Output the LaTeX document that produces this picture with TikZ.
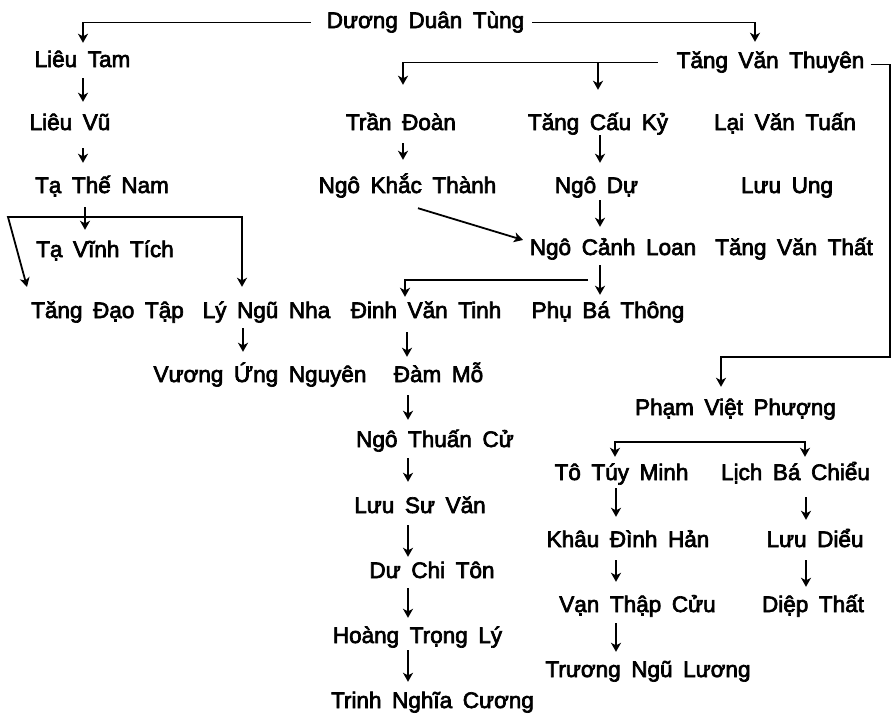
\documentclass[tikz,border=0pt]{standalone}
\usepackage{fontspec}
\setmainfont{Liberation Sans}[WordSpace=1.7,FakeBold=3]
\usetikzlibrary{arrows.meta}
\begin{document}
\begin{tikzpicture}[x=1pt,y=-1pt,
  nm/.style={anchor=base, font=\fontsize{22.5}{26}\selectfont, inner xsep=2pt, inner ysep=5pt, text height=16pt, text depth=5pt},
  hd/.style={Stealth[length=9pt,width=10pt,inset=2.5pt]},
  arr/.style={line width=1.8pt, -{Stealth[length=9pt,width=10pt,inset=2.5pt]}},
  arrtwo/.style={line width=1.8pt, {Stealth[length=9pt,width=10pt,inset=2.5pt]}-{Stealth[length=9pt,width=10pt,inset=2.5pt]}}]
\fill[white] (0,0) rectangle (893,718);
\useasboundingbox (0,0) rectangle (893,718);

% nodes
\node[nm] (dd) at (425.5,28) {Dương Duân Tùng};
\node[nm] (lt) at (82.5,67) {Liêu Tam};
\node[nm] (tvt) at (770.5,68) {Tăng Văn Thuyên};
\node[nm] (lv) at (70,130) {Liêu Vũ};
\node[nm] (td) at (401,130) {Trần Đoàn};
\node[nm] (tck) at (598,130) {Tăng Cấu Kỷ};
\node[nm] (lvt) at (785,130) {Lại Văn Tuấn};
\node[nm] (ttn) at (102,193) {Tạ Thế Nam};
\node[nm] (nkt) at (407.5,193) {Ngô Khắc Thành};
\node[nm] (nd) at (596.5,193) {Ngô Dự};
\node[nm] (lu) at (787,193) {Lưu Ung};
\node[nm] (tvtich) at (105,257) {Tạ Vĩnh Tích};
\node[nm] (ncl) at (613,255) {Ngô Cảnh Loan};
\node[nm] (tvthat) at (794,255) {Tăng Văn Thất};
\node[nm] (tdt) at (107.5,318) {Tăng Đạo Tập};
\node[nm] (lnn) at (266.5,318) {Lý Ngũ Nha};
\node[nm] (dvt) at (426,318) {Đinh Văn Tinh};
\node[nm] (pbt) at (608,318) {Phụ Bá Thông};
\node[nm] (vun) at (260,382) {Vương Ứng Nguyên};
\node[nm] (dm) at (438.5,382) {Đàm Mỗ};
\node[nm] (pvp) at (735.5,415) {Phạm Việt Phượng};
\node[nm] (ntc) at (435,447) {Ngô Thuấn Cử};
\node[nm] (ttm) at (621.5,480) {Tô Túy Minh};
\node[nm] (lbc) at (795.5,480) {Lịch Bá Chiểu};
\node[nm] (lsv) at (420,513) {Lưu Sư Văn};
\node[nm] (kdh) at (628,547) {Khâu Đình Hản};
\node[nm] (ld) at (815,547) {Lưu Diểu};
\node[nm] (dct) at (432,578) {Dư Chi Tôn};
\node[nm] (vtc) at (637.5,612) {Vạn Thập Cửu};
\node[nm] (dt) at (813,612) {Diệp Thất};
\node[nm] (htl) at (417.5,643) {Hoàng Trọng Lý};
\node[nm] (tnl) at (648,677) {Trương Ngũ Lương};
\node[nm] (tnc) at (432.5,708) {Trinh Nghĩa Cương};

% bend points
\coordinate (rc) at (890,357);
\coordinate (bl) at (8,217);
\coordinate (br) at (242,217);
\coordinate (pl) at (615,442);
\coordinate (pr) at (805,442);

% top branches
\draw[arr] ([xshift=-14pt]dd.west) -| ([xshift=0.5pt,yshift=3pt]lt.north);
\draw[arr] ([xshift=6pt]dd.east) -| ([xshift=-15.5pt,yshift=5pt]tvt.north);
\draw[arr] ([xshift=-17pt]tvt.west) -| ([xshift=2pt,yshift=24pt]td.north);
\draw[arr] (tvt.west -| tck.north) -- ([yshift=19pt]tck.north);
\draw[arr] ([xshift=4pt,yshift=-2pt]tvt.east) -| (rc) -| ([xshift=-14.5pt,yshift=7pt]pvp.north);

% left column
\draw[arr] ([xshift=0.5pt,yshift=-1pt]lt.south) -- ([xshift=13pt,yshift=7pt]lv.north);
\draw[arr] ([xshift=13pt,yshift=-8pt]lv.south) -- ([xshift=-19pt,yshift=9pt]ttn.north);
\draw[arr] ([xshift=-17pt,yshift=-4pt]ttn.south) -- ([xshift=-20pt,yshift=6pt]tvtich.north);
\draw[arrtwo] ([xshift=-80.5pt,yshift=10pt]tdt.north) -- (bl) -- (br) -- ([xshift=-24.5pt,yshift=10pt]lnn.north);
\draw[arr] ([xshift=-23.5pt]lnn.south) -- ([xshift=-17pt,yshift=9pt]vun.north);

% middle
\draw[arr] ([xshift=2pt,yshift=-3pt]td.south) -- ([xshift=-4.5pt,yshift=12pt]nkt.north);
\draw[arr] ([xshift=10.5pt,yshift=-5pt]nkt.south) -- ([xshift=-90pt,yshift=9.5pt]ncl.center);
\draw[arr] ([xshift=2pt,yshift=5pt]tck.south) -- ([xshift=3.5pt,yshift=9pt]nd.north);
\draw[arr] ([xshift=3.5pt,yshift=3pt]nd.south) -- ([xshift=-13pt,yshift=7pt]ncl.north);
\draw[arr] ([xshift=-13pt]ncl.south) -- ([xshift=-8pt,yshift=2pt]pbt.north);
\draw[arr] ([xshift=-25pt,yshift=-15pt]ncl.south) -| ([xshift=-21pt]dvt.north);
\draw[arr] ([xshift=-19pt,yshift=-4pt]dvt.south) -- ([xshift=-31.5pt,yshift=4pt]dm.north);
\draw[arr] ([xshift=-30.5pt,yshift=-3pt]dm.south) -- ([xshift=-27pt,yshift=6pt]ntc.north);
\draw[arr] ([xshift=-27pt,yshift=-1pt]ntc.south) -- ([xshift=-12pt,yshift=10pt]lsv.north);
\draw[arr] ([xshift=-12pt,yshift=-2pt]lsv.south) -- ([xshift=-24pt]dct.north);
\draw[arr] ([xshift=-24pt]dct.south) -- ([xshift=-9.5pt,yshift=4pt]htl.north);
\draw[arr] ([xshift=-9.5pt,yshift=3pt]htl.south) -- ([xshift=-24.5pt,yshift=5pt]tnc.north);

% right lower
\draw[arrtwo] ([xshift=-6.5pt,yshift=2pt]ttm.north) -- (pl) -- (pr) -- ([xshift=9.5pt,yshift=2pt]lbc.north);
\draw[arr] ([xshift=-5.5pt,yshift=2pt]ttm.south) -- ([xshift=-12pt,yshift=9pt]kdh.north);
\draw[arr] ([xshift=10.5pt,yshift=-7pt]lbc.south) -- ([xshift=-9pt,yshift=6pt]ld.north);
\draw[arr] ([xshift=-12pt,yshift=-3pt]kdh.south) -- ([xshift=-21.5pt,yshift=9pt]vtc.north);
\draw[arr] ([xshift=-9pt,yshift=-3pt]ld.south) -- ([xshift=-7pt,yshift=4pt]dt.north);
\draw[arr] ([xshift=-21.5pt,yshift=-1pt]vtc.south) -- ([xshift=-32pt,yshift=4pt]tnl.north);
\end{tikzpicture}
\end{document}
